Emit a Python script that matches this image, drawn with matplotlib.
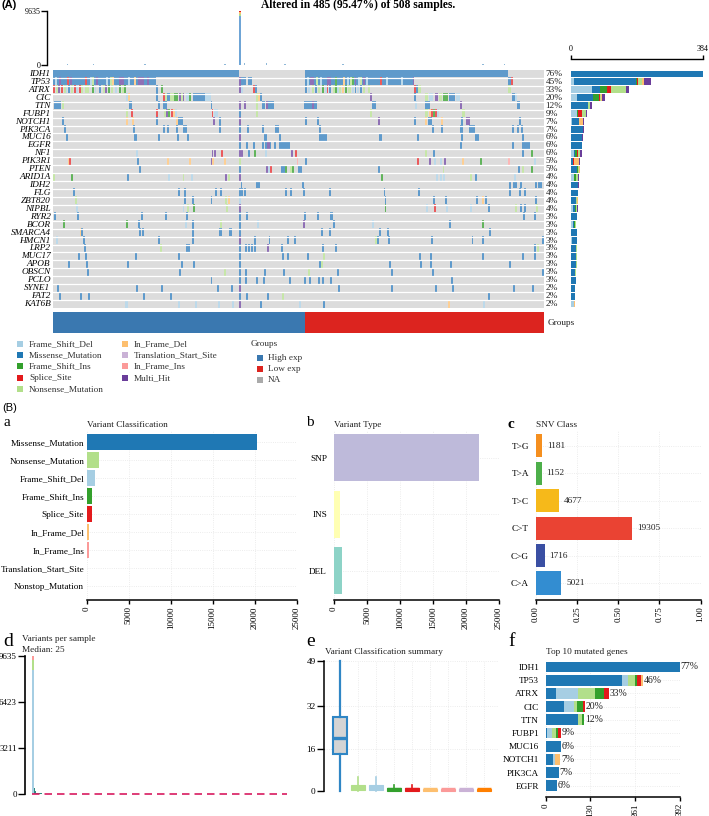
import numpy as np
import matplotlib
matplotlib.use("Agg")
import matplotlib.pyplot as plt
from matplotlib.colors import ListedColormap

plt.rcParams['font.family'] = ['Liberation Serif', 'DejaVu Serif']
W, H = 709, 816
FS = 6.7

# ---------- classes ----------
class_names = ['Frame_Shift_Del', 'Missense_Mutation', 'Frame_Shift_Ins', 'Splice_Site',
               'Nonsense_Mutation', 'In_Frame_Del', 'Translation_Start_Site', 'In_Frame_Ins', 'Multi_Hit']
class_keys = ['D', 'M', 'I', 'S', 'N', 'F', 'T', 'R', 'H']
class_colors = ['#a6cee3', '#1f78b4', '#33a02c', '#e31a1c', '#b2df8a', '#fdbf6f', '#cab2d6', '#fb9a99', '#6a3d9a']
heat_colors = ['#dcdcdc', '#bcd9ea', '#5f9acb', '#62b45c', '#ea5a5c', '#c6e6a8', '#fdcf94', '#d9c8e4', '#fcb7b6', '#8f70b5']

# ---------- oncoplot ----------
genes = ['IDH1', 'TP53', 'ATRX', 'CIC', 'TTN', 'FUBP1', 'NOTCH1', 'PIK3CA', 'MUC16', 'EGFR', 'NF1', 'PIK3R1', 'PTEN',
         'ARID1A', 'IDH2', 'FLG', 'ZBT820', 'NIPBL', 'RYR2', 'BCOR', 'SMARCA4', 'HMCN1', 'LRP2', 'MUC17', 'APOB',
         'OBSCN', 'PCLO', 'SYNE1', 'FAT2', 'KAT6B']
gene_pct = ['76%', '45%', '33%', '20%', '12%', '9%', '7%', '7%', '6%', '6%', '6%', '5%', '5%', '4%', '4%', '4%', '4%',
            '4%', '3%', '3%', '3%', '3%', '3%', '3%', '3%', '3%', '3%', '2%', '2%', '2%']
n_samples = 508

IDH1_hits = [(0, 192, 'M'), (261, 471, 'M')]
TP53_hits = [(0, 107, 'M'), (2, 'D'), (6, 'H'), (14, 17, 'S'), (18, 'H'), (33, 'S'), (38, 'D'), (40, 'N'), (45, 'H'),
             (55, 'D'), (59, 61, 'N'), (61, 'F'), (68, 73, 'H'), (78, 'D'), (84, 'F'), (88, 94, 'H'), (97, 'H'),
             (192, 194, 'H'), (194, 200, 'M'), (202, 206, 'M'), (261, 374, 'M'), (263, 'D'), (266, 270, 'H'),
             (272, 'N'), (276, 'D'), (284, 288, 'H'), (292, 'I'), (300, 'F'), (304, 'D'), (307, 'N'), (309, 'I'),
             (312, 'H'), (316, 'D'), (318, 'N'), (321, 'H'), (324, 'D'), (338, 'S'), (345, 'D'), (360, 'D'),
             (372, 374, 'H'), (471, 474, 'M'), (474, 476, 'S')]
ATRX_hits = [(0, 2, 'S'), (3, 'N'), (5, 7, 'H'), (8, 'S'), (11, 'N'), (13, 'D'), (16, 'M'), (19, 'N'), (22, 'S'),
             (24, 'D'), (27, 'S'), (29, 'N'), (33, 37, 'N'), (40, 'I'), (43, 45, 'D'), (48, 50, 'M'), (52, 'N'),
             (54, 56, 'H'), (57, 'I'), (60, 62, 'N'), (64, 66, 'D'), (68, 70, 'I'), (71, 'N'), (73, 76, 'I'),
             (107, 'M'), (112, 114, 'I'), (192, 194, 'H'), (194, 197, 'D'), (207, 'S'), (209, 'M'), (261, 263, 'M'),
             (264, 266, 'D'), (268, 'N'), (271, 'M'), (274, 276, 'N'), (278, 'I'), (281, 'D'), (283, 'S'),
             (286, 288, 'M'), (290, 'N'), (292, 'I'), (294, 'D'), (296, 'N'), (299, 'F'), (302, 'I'), (305, 308, 'N'),
             (309, 'D'), (312, 'M'), (315, 'D'), (318, 'M'), (321, 'N'), (326, 328, 'N'), (374, 'S'), (376, 'M'),
             (378, 381, 'N'), (471, 474, 'N')]
CIC_hits = [(76, 'D'), (78, 'F'), (107, 'M'), (114, 116, 'S'), (116, 118, 'N'), (118, 121, 'M'), (121, 125, 'N'),
            (125, 129, 'I'), (130, 132, 'H'), (132, 134, 'N'), (134, 136, 'H'), (138, 141, 'D'), (141, 143, 'I'),
            (145, 157, 'M'), (157, 163, 'D'), (210, 212, 'N'), (212, 214, 'F'), (214, 216, 'M'), (328, 'H'),
            (374, 376, 'M'), (385, 388, 'N'), (389, 393, 'D'), (395, 398, 'H'), (399, 402, 'N'), (403, 409, 'I'),
            (410, 416, 'M'), (417, 421, 'D'), (475, 478, 'M'), (478, 480, 'D')]
TTN_hits = [(1, 8, 'M'), (9, 'N'), (79, 82, 'M'), (109, 'M'), (114, 118, 'M'), (163, 'M'), (192, 194, 'H'),
            (198, 'H'), (210, 'N'), (216, 219, 'M'), (220, 222, 'H'), (222, 229, 'M'), (260, 268, 'M'), (268, 270, 'H'),
            (270, 273, 'M'), (330, 334, 'M'), (375, 'D'), (385, 390, 'M'), (421, 'H'), (480, 483, 'M')]
FUBP1_hits = [(76, 78, 'N'), (81, 83, 'S'), (107, 'S'), (115, 117, 'N'), (117, 119, 'H'), (119, 121, 'I'),
              (122, 124, 'S'), (124, 126, 'F'), (126, 128, 'D'), (164, 166, 'S'), (167, 171, 'D'), (192, 'M'),
              (210, 'N'), (328, 'N'), (385, 388, 'N'), (389, 391, 'F'), (391, 393, 'S'), (393, 395, 'I'),
              (395, 397, 'S'), (397, 399, 'D'), (423, 426, 'N')]
NOTCH1_hits = [(9, 'M'), (76, 'F'), (82, 'F'), (107, 'M'), (127, 'F'), (129, 134, 'M'), (166, 'H'), (172, 'M'),
               (192, 194, 'H'), (261, 'M'), (273, 'M'), (336, 'H'), (374, 'M'), (385, 'F'), (388, 392, 'M'),
               (401, 'F'), (422, 'M'), (427, 'H'), (429, 'H'), (482, 'M')]
PIK3CA_hits = [(11, 13, 'M'), (83, 'M'), (114, 'M'), (118, 'M'), (127, 'M'), (134, 139, 'M'), (172, 'M'), (192, 'M'),
               (201, 'M'), (216, 'M'), (230, 234, 'M'), (275, 'M'), (392, 'M'), (401, 404, 'M'), (421, 424, 'M'),
               (430, 437, 'M'), (475, 477, 'M'), (480, 'M'), (484, 'M')]
MUC16_hits = [(13, 16, 'M'), (84, 87, 'M'), (109, 111, 'M'), (128, 'M'), (139, 'M'), (192, 195, 'H'), (218, 221, 'M'),
              (234, 'M'), (275, 284, 'M'), (337, 340, 'M'), (377, 'M'), (422, 'M'), (437, 441, 'M'), (485, 'M')]
EGFR_hits = [(192, 'M'), (200, 'M'), (207, 'M'), (216, 'M'), (219, 'M'), (221, 224, 'H'), (224, 226, 'M'), (229, 'M'),
             (234, 245, 'M'), (421, 'M'), (475, 'M'), (485, 494, 'M')]
NF1_hits = [(86, 'D'), (164, 'H'), (167, 'H'), (174, 'S'), (192, 194, 'H'), (195, 'H'), (202, 'M'), (208, 'I'),
            (219, 'D'), (246, 'H'), (250, 'S'), (385, 'N'), (393, 'M'), (485, 'M'), (495, 497, 'I')]
PIK3R1_hits = [(16, 17, 'F'), (17, 19, 'S'), (87, 'M'), (118, 'F'), (141, 'F'), (163, 'H'), (165, 'F'), (177, 'F'),
               (192, 'N'), (252, 'R'), (261, 'M'), (377, 379, 'S'), (389, 'H'), (394, 'D'), (400, 'D'), (405, 'H'),
               (423, 'F'), (442, 'I'), (471, 'R'), (498, 'D')]
PTEN_hits = [(89, 'M'), (192, 'M'), (220, 'H'), (222, 'D'), (225, 'S'), (236, 240, 'M'), (240, 'I'), (245, 'N'),
             (247, 'I'), (254, 'M'), (256, 'M'), (336, 'M'), (403, 'N'), (481, 'M'), (485, 487, 'N'), (495, 'I')]
ARID1A_hits = [(0, 'N'), (19, 'I'), (77, 'M'), (119, 'D'), (134, 'N'), (143, 'D'), (178, 'H'), (181, 'N'), (192, 'H'),
               (339, 341, 'I'), (396, 'D'), (400, 'D'), (404, 'D'), (431, 'N'), (437, 'M'), (477, 'D')]
IDH2_hits = [(194, 'M'), (210, 214, 'M'), (258, 'M'), (472, 474, 'M'), (476, 480, 'M'), (483, 'M'), (499, 501, 'M'),
             (502, 506, 'M')]
FLG_hits = [(21, 23, 'M'), (129, 'M'), (136, 'M'), (168, 'M'), (173, 'M'), (192, 'M'), (195, 'M'), (198, 'M'),
            (240, 'M'), (245, 'M'), (259, 'M'), (286, 'M'), (342, 'M'), (378, 'M'), (472, 'M'), (482, 'M'), (487, 489, 'M')]
ZBT820_hits = [(23, 'N'), (136, 'M'), (144, 'M'), (163, 'M'), (178, 'N'), (181, 'F'), (192, 'D'), (343, 'M'),
               (393, 'M'), (406, 'M'), (438, 'M'), (444, 'F'), (447, 449, 'M'), (499, 'M')]
NIPBL_hits = [(24, 'D'), (134, 'D'), (139, 'N'), (145, 'I'), (179, 'N'), (192, 'H'), (343, 345, 'I'), (386, 'D'),
              (394, 396, 'S'), (407, 'D'), (431, 'D'), (450, 'M'), (478, 'N'), (483, 'M'), (487, 'M'), (500, 'N')]
RYR2_hits = [(1, 3, 'M'), (25, 27, 'M'), (91, 'M'), (116, 'M'), (138, 'M'), (192, 'M'), (200, 'M'), (260, 'M'),
             (273, 'M'), (287, 290, 'M'), (486, 'M'), (498, 'M')]
BCOR_hits = [(10, 'I'), (76, 'I'), (88, 'M'), (137, 'D'), (144, 'M'), (173, 'N'), (192, 'M'), (211, 'D'), (259, 'H'),
             (290, 292, 'M'), (330, 'D'), (410, 'M'), (444, 'I')]
SMARCA4_hits = [(28, 'F'), (29, 31, 'M'), (89, 'M'), (92, 'M'), (144, 'M'), (172, 175, 'M'), (182, 185, 'M'),
                (192, 'M'), (277, 'M'), (286, 'M'), (337, 339, 'M'), (346, 'M'), (451, 453, 'M')]
HMCN1_hits = [(3, 5, 'D'), (31, 'M'), (109, 'M'), (144, 'M'), (192, 194, 'H'), (208, 'M'), (223, 'M'), (242, 'M'),
              (249, 'M'), (333, 'N'), (335, 'M'), (347, 'M'), (391, 'M'), (433, 'M'), (444, 'M'), (506, 'M')]
LRP2_hits = [(32, 'M'), (111, 'N'), (138, 'M'), (140, 'M'), (192, 'M'), (199, 'M'), (202, 204, 'M'), (205, 'M'),
             (208, 'M'), (221, 'H'), (236, 'M'), (278, 'M'), (292, 294, 'M'), (498, 'M'), (501, 'N')]
MUC17_hits = [(26, 'M'), (33, 'M'), (85, 'M'), (129, 131, 'M'), (192, 'M'), (237, 'M'), (242, 'M'), (263, 'M'),
              (279, 'N'), (379, 'M'), (390, 'M'), (444, 'M'), (485, 'M'), (498, 'M')]
APOB_hits = [(16, 18, 'M'), (34, 'M'), (77, 'M'), (132, 'M'), (145, 'M'), (192, 'M'), (275, 'M'), (277, 'N'),
             (348, 350, 'M'), (380, 'M'), (390, 'M'), (411, 'M'), (472, 'M')]
OBSCN_hits = [(35, 'M'), (130, 'M'), (177, 'N'), (192, 'M'), (199, 'M'), (218, 'M'), (238, 'M'), (264, 'N'), (294, 'M'),
              (350, 'M'), (392, 'M'), (506, 'M')]
PCLO_hits = [(163, 'M'), (192, 'M'), (199, 201, 'M'), (210, 'M'), (217, 'M'), (244, 'M'), (260, 'M'), (265, 'M'),
             (274, 'M'), (278, 'M'), (287, 'M'), (412, 'M')]
SYNE1_hits = [(4, 'M'), (86, 'M'), (112, 'M'), (170, 'M'), (184, 'M'), (192, 'H'), (295, 'M'), (350, 'M'), (395, 'M'),
              (413, 'M'), (476, 'M'), (496, 'M')]
FAT2_hits = [(6, 'M'), (28, 'M'), (36, 38, 'M'), (93, 'M'), (121, 'M'), (192, 'M'), (200, 'M'), (221, 'M'), (237, 'N'),
             (450, 'M')]
KAT6B_hits = [(75, 78, 'D'), (129, 'D'), (147, 'D'), (171, 'D'), (185, 'D'), (192, 'H'), (214, 'M'), (255, 'D'),
              (279, 'M'), (409, 'F'), (445, 'D')]

gene_hits = [IDH1_hits, TP53_hits, ATRX_hits, CIC_hits, TTN_hits, FUBP1_hits, NOTCH1_hits, PIK3CA_hits, MUC16_hits,
             EGFR_hits, NF1_hits, PIK3R1_hits, PTEN_hits, ARID1A_hits, IDH2_hits, FLG_hits, ZBT820_hits, NIPBL_hits,
             RYR2_hits, BCOR_hits, SMARCA4_hits, HMCN1_hits, LRP2_hits, MUC17_hits, APOB_hits, OBSCN_hits, PCLO_hits,
             SYNE1_hits, FAT2_hits, KAT6B_hits]

# top TMB bars (sample, count)
tmb_spike_sample = 192
tmb_spike_parts = [('M', 8800), ('N', 300), ('F', 300), ('S', 235)]
tmb_samples = [15, 42, 70, 95, 112, 150, 178, 198, 221, 240, 262, 300, 335, 380, 410, 445, 467, 490]
tmb_counts = [90, 140, 70, 130, 60, 80, 90, 420, 330, 110, 70, 90, 60, 70, 80, 90, 250, 60]

# side bars: counts per gene in class_keys order
side_max = 384
side_D = [0, 10, 60, 16, 0, 16, 4, 0, 0, 0, 10, 0, 0, 10, 0, 0, 0, 7, 0, 6, 0, 2, 0, 0, 0, 0, 0, 0, 0, 9]
side_M = [384, 178, 24, 48, 50, 0, 18, 36, 33, 31, 3, 6, 16, 0, 20, 21, 14, 4, 17, 4, 16, 14, 15, 15, 15, 13, 15, 11, 11, 1]
side_I = [0, 3, 22, 17, 0, 5, 0, 0, 0, 0, 5, 1, 3, 5, 0, 0, 1, 3, 0, 3, 0, 0, 0, 0, 0, 0, 0, 0, 0, 0]
side_S = [0, 4, 10, 2, 0, 11, 0, 0, 0, 0, 3, 2, 1, 0, 0, 0, 0, 0, 0, 0, 0, 0, 0, 0, 0, 0, 0, 0, 0, 0]
side_N = [0, 11, 44, 5, 5, 11, 0, 0, 0, 0, 4, 0, 3, 4, 0, 0, 1, 4, 0, 2, 0, 0, 1, 1, 1, 2, 0, 0, 1, 0]
side_F = [0, 5, 0, 2, 0, 0, 12, 0, 0, 0, 0, 14, 2, 0, 0, 0, 4, 0, 0, 0, 1, 0, 0, 0, 0, 0, 0, 0, 0, 1]
side_H = [0, 21, 8, 10, 7, 3, 3, 1, 1, 1, 6, 4, 0, 3, 2, 0, 0, 2, 0, 0, 0, 1, 1, 0, 0, 0, 0, 1, 0, 2]

legend_groups = ['High exp', 'Low exp', 'NA']
group_colors = ['#3a78b0', '#dc241f', '#aaaaaa']
group_sizes = [261, 247]

# ---------- panel a ----------
vc_names = ['Missense_Mutation', 'Nonsense_Mutation', 'Frame_Shift_Del', 'Frame_Shift_Ins', 'Splice_Site',
            'In_Frame_Del', 'In_Frame_Ins', 'Translation_Start_Site', 'Nonstop_Mutation']
vc_counts = [20250, 1430, 920, 640, 560, 200, 200, 40, 40]
vc_colors = ['#1f78b4', '#b2df8a', '#a6cee3', '#33a02c', '#e31a1c', '#fdbf6f', '#fb9a99', '#cab2d6', '#ff7f00']
# ---------- panel b ----------
vt_names = ['SNP', 'INS', 'DEL']
vt_counts = [22020, 900, 1160]
vt_colors = ['#bebada', '#ffffb3', '#8dd3c7']
# ---------- panel c ----------
snv_names = ['T>G', 'T>A', 'T>C', 'C>T', 'C>G', 'C>A']
snv_counts = [1181, 1152, 4677, 19305, 1716, 5021]
snv_colors = ['#f58f1f', '#4daf4a', '#f6b91a', '#ea4333', '#3a4fa3', '#338dd1']
# ---------- panel d ----------
vps_ticks = [0, 3211, 6423, 9635]
vps_first_parts = [('D', 8630), ('N', 710), ('R', 295)]
vps_rest = [420, 180, 120, 90, 70, 60, 50, 45, 40, 35]
vps_median = 25
# ---------- panel e ----------
box_q1 = [13.8, 0.3, 0.3, 0.0, 0.0, 0.0, 0.0, 0.0, 0.0]
box_med = [19.8, 1.0, 1.0, 1.0, 1.0, 1.0, 1.0, 1.0, 1.0]
box_q3 = [28.0, 2.2, 2.2, 1.1, 1.1, 0.9, 0.9, 0.9, 0.9]
box_hi = [49, 5.4, 5.4, 2.2, 2.2, 0.9, 0.9, 0.9, 0.9]
box_lo = [0, 0, 0, 0, 0, 0, 0, 0, 0]
box_ticks = [0, 16, 32, 49]
# ---------- panel f ----------
top_genes = ['IDH1', 'TP53', 'ATRX', 'CIC', 'TTN', 'FUBP1', 'MUC16', 'NOTCH1', 'PIK3CA', 'EGFR']
top_pct = ['77%', '46%', '33%', '20%', '12%', '9%', '6%', '7%', '7%', '6%']
top_M = [392, 222, 29, 54, 95, 3, 44, 21, 37, 32]
top_D = [0, 18, 66, 29, 0, 16, 0, 6, 0, 0]
top_N = [0, 19, 49, 9, 10, 11, 0, 0, 0, 0]
top_I = [0, 7, 27, 17, 5, 4, 0, 0, 0, 0]
top_S = [0, 12, 12, 4, 2, 11, 0, 0, 0, 0]
top_F = [0, 6, 0, 0, 0, 0, 0, 15, 0, 0]

# ---------------------------------------------------------------------------
fig = plt.figure(figsize=(W / 100, H / 100), dpi=100, facecolor='white')
cmap_of = dict(zip(class_keys, class_colors))


def box(x0, y0, x1, y1):
    return fig.add_axes([x0 / W, 1 - y1 / H, (x1 - x0) / W, (y1 - y0) / H])


over = fig.add_axes([0, 0, 1, 1], zorder=10)
over.set_xlim(0, W)
over.set_ylim(H, 0)
over.axis('off')


def label(x, y, s, **kw):
    kw.setdefault('fontsize', FS)
    kw.setdefault('va', 'center')
    kw.setdefault('ha', 'left')
    over.text(x, y, s, **kw)


# heat matrix
mat = np.zeros((len(genes), n_samples), dtype=int)
for row, hits in enumerate(gene_hits):
    for h in hits:
        if len(h) == 2:
            a, b, k = h[0], h[0] + 2, h[1]
        else:
            a, b, k = h
        mat[row, a:b] = class_keys.index(k) + 1

ax = box(53, 70, 544, 308)
ax.imshow(mat, cmap=ListedColormap(heat_colors), vmin=0, vmax=9, aspect='auto', interpolation='nearest',
          extent=(0, n_samples, len(genes), 0))
for r in range(1, len(genes)):
    ax.axhline(r, color='white', lw=0.9)
ax.axis('off')
for r, (g, p) in enumerate(zip(genes, gene_pct)):
    y = 70 + (r + 0.5) * 238 / len(genes)
    label(50.5, y, g, ha='right', style='italic')
    label(545.5, y, p, color='#222222')

# top bars
ax = box(53, 11, 544, 65)
ax.set_xlim(0, n_samples)
ax.set_ylim(0, 9635)
bottom = 0
for k, v in tmb_spike_parts:
    c = '#6fa5d6' if k == 'M' else cmap_of[k]
    ax.bar(tmb_spike_sample, v, bottom=bottom, width=3, color=c, align='edge', lw=0)
    bottom += v
ax.bar(tmb_samples, tmb_counts, width=1.5, color='#8fb8d8', lw=0, clip_on=False)
ax.plot([0, n_samples], [40, 40], color='#c9d3da', lw=0.5, ls=(0, (2, 1)))
for s in ['top', 'right', 'bottom']:
    ax.spines[s].set_visible(False)
ax.spines['left'].set_position(('outward', 4))
ax.spines['left'].set_linewidth(1.0)
ax.set_xticks([])
ax.set_yticks([0, 9635])
ax.tick_params(axis='y', length=4, width=1.0, labelsize=5.8, pad=1)

# side bars
ax = box(571, 70, 703, 308)
ax.set_xlim(0, side_max)
ax.set_ylim(len(genes), 0)
left = np.zeros(len(genes))
side_series = [('D', side_D), ('M', side_M), ('I', side_I), ('S', side_S), ('N', side_N), ('F', side_F), ('H', side_H)]
for k, vals in side_series:
    ax.barh(np.arange(len(genes)) + 0.5, vals, left=left, height=0.86, color=cmap_of[k], lw=0)
    left += np.array(vals)
for s in ['left', 'right', 'bottom']:
    ax.spines[s].set_visible(False)
ax.spines['top'].set_position(('outward', 8))
ax.spines['top'].set_linewidth(1.0)
ax.xaxis.tick_top()
ax.set_xticks([0, side_max])
ax.tick_params(axis='x', length=3, width=1.0, labelsize=5.8, pad=1.5)
ax.set_yticks([])

# group annotation
ax = box(53, 312, 544, 333)
ax.barh(0, group_sizes[0], left=0, height=1, color=group_colors[0], lw=0)
ax.barh(0, group_sizes[1], left=group_sizes[0], height=1, color=group_colors[1], lw=0)
ax.set_xlim(0, n_samples)
ax.set_ylim(-0.5, 0.5)
ax.axis('off')
label(548, 323, 'Groups', color='#222222')

# legend
col1_y = [344, 355, 366, 378, 389]
legend_order = ['Frame_Shift_Del', 'Missense_Mutation', 'Frame_Shift_Ins', 'Splice_Site', 'Nonsense_Mutation']
for y, n in zip(col1_y, legend_order):
    i = class_names.index(n)
    over.scatter([20], [y], marker='s', s=13, color=class_colors[i], lw=0)
    label(29, y, n, color='#333333')
legend_order2 = ['In_Frame_Del', 'Translation_Start_Site', 'In_Frame_Ins', 'Multi_Hit']
for y, n in zip(col1_y, legend_order2):
    i = class_names.index(n)
    over.scatter([125], [y], marker='s', s=13, color=class_colors[i], lw=0)
    label(133.5, y, n, color='#333333')
label(251, 344, 'Groups', color='#333333')
for y, n, c in zip([358, 369, 380], legend_groups, group_colors):
    over.scatter([260], [y], marker='s', s=13, color=c, lw=0)
    label(268, y, n, color='#333333')

label(261, 5, 'Altered in 485 (95.47%) of 508 samples.', fontsize=8.3, weight='bold')
label(2, 5, '(A)', fontsize=8, family='Liberation Sans', weight='bold')
label(2, 408, '(B)', fontsize=8, family='Liberation Sans')


def style_bar(ax, xt):
    for s in ['top', 'right', 'left']:
        ax.spines[s].set_visible(False)
    ax.spines['bottom'].set_linewidth(1.1)
    ax.set_xticks(xt)
    ax.tick_params(axis='x', length=3, width=1.0, labelsize=FS - 0.2, labelrotation=90, pad=1.5, color='black')
    ax.tick_params(axis='y', length=0, labelsize=FS, pad=2)
    ax.grid(color='#e6e6e6', ls=':', lw=0.6)
    ax.set_axisbelow(True)


# a
ax = box(87, 430, 296.5, 600)
ax.barh(range(9), vc_counts, height=0.85, color=vc_colors, lw=0)
ax.set_xlim(0, 25000)
ax.set_ylim(8.78, -0.667)
ax.set_yticks(range(9))
ax.set_yticklabels(vc_names)
style_bar(ax, [0, 5000, 10000, 15000, 20000, 25000])
label(4, 423, 'a', fontsize=11)
label(87, 425, 'Variant Classification', color='#222222')

# b
ax = box(334, 430, 499, 600)
ax.barh(range(3), vt_counts, height=0.83, color=vt_colors, lw=0)
ax.set_xlim(0, 25000)
ax.set_ylim(2.52, -0.49)
ax.set_yticks(range(3))
ax.set_yticklabels(vt_names)
style_bar(ax, [0, 5000, 10000, 15000, 20000, 25000])
ax.tick_params(axis='y', pad=5)
label(306, 423, 'b', fontsize=11)
label(334, 425, 'Variant Type', color='#222222')

# c
ax = box(536, 430, 700.5, 600)
snv_total = sum(snv_counts)
snv_frac = [c / snv_total for c in snv_counts]
ax.barh(range(6), snv_frac, height=0.84, color=snv_colors, lw=0)
ax.set_xlim(0, 1)
ax.set_ylim(5.62, -0.58)
ax.set_yticks(range(6))
ax.set_yticklabels(snv_names)
style_bar(ax, [0, 0.25, 0.5, 0.75, 1.0])
ax.set_xticklabels(['0.00', '0.25', '0.50', '0.75', '1.00'])
ax.tick_params(axis='y', pad=5)
for i, (f, c) in enumerate(zip(snv_frac, snv_counts)):
    ax.annotate(str(c), (f, i), xytext=(3.6, 0), textcoords='offset points', va='center', fontsize=FS, color='#222222')
label(508, 424, 'c', fontsize=11, weight='bold')
label(536, 425, 'SNV Class', color='#222222')

# d
ax = box(25, 656, 287, 794)
ax.set_xlim(-14, n_samples)
ax.set_ylim(0, 9635)
bottom = 0
for k, v in vps_first_parts:
    ax.bar(0, v, bottom=bottom, width=4, color=cmap_of[k], lw=0, align='edge')
    bottom += v
ax.bar(np.arange(len(vps_rest)) * 1.5 + 4, vps_rest, width=1.5, color='#2e8b7f', lw=0, align='edge')
ax.plot([0, n_samples], [vps_median, vps_median], color='#d81b60', lw=1.2, ls=(0, (4.5, 3)), clip_on=False, zorder=5)
for s in ['top', 'right', 'bottom']:
    ax.spines[s].set_visible(False)
ax.spines['left'].set_linewidth(1.2)
ax.set_xticks([])
ax.set_yticks(vps_ticks)
ax.tick_params(axis='y', length=5, width=1.0, labelsize=FS - 0.2, pad=1)
label(3, 642, 'd', fontsize=14)
label(22, 639, 'Variants per sample', color='#222222')
label(22, 649.5, 'Median: 25', color='#222222')

# e
ax = box(324, 661, 498, 791)
stats = [dict(med=m, q1=a, q3=b, whislo=l, whishi=h, fliers=[]) for m, a, b, l, h in
         zip(box_med, box_q1, box_q3, box_lo, box_hi)]
bp = ax.bxp(stats, positions=range(9), widths=0.82, patch_artist=True, showfliers=False, showcaps=False,
            manage_ticks=False)
for i, c in enumerate(vc_colors):
    edge = '#2f86c5' if i == 0 else c
    bp['boxes'][i].set(facecolor='#d4d4d4' if i == 0 else c, edgecolor=edge, linewidth=1.5 if i == 0 else 0.8,
                       clip_on=False)
    bp['medians'][i].set(color=edge, linewidth=2.4 if i == 0 else 1.0, clip_on=False, solid_capstyle='butt')
    for w in bp['whiskers'][2 * i:2 * i + 2]:
        w.set(color=edge, linewidth=1.6 if i == 0 else 1.2, clip_on=False)
ax.set_xlim(-0.89, 8.78)
ax.set_ylim(0, 49)
for s in ['top', 'right', 'bottom']:
    ax.spines[s].set_visible(False)
ax.spines['left'].set_linewidth(1.1)
ax.set_xticks(range(9))
ax.set_xticklabels([])
ax.set_yticks(box_ticks)
ax.tick_params(axis='x', length=0)
ax.tick_params(axis='y', length=5, width=1.0, labelsize=FS, pad=1)
ax.grid(color='#e6e6e6', ls=':', lw=0.6)
ax.set_axisbelow(True)
label(306, 642, 'e', fontsize=14)
label(325, 652, 'Variant Classification summary', color='#222222')

# f
ax = box(546, 660, 680, 797)
left = np.zeros(10)
for k, vals in [('M', top_M), ('D', top_D), ('N', top_N), ('I', top_I), ('S', top_S), ('F', top_F)]:
    ax.barh(range(10), vals, left=left, height=0.83, color=cmap_of[k], lw=0)
    left += np.array(vals)
for i, p in enumerate(top_pct):
    ax.annotate(p, (left[i], i), xytext=(0.5, 0), textcoords='offset points', va='center', fontsize=FS + 0.3,
                annotation_clip=False, color='#222222')
ax.set_xlim(0, 392)
ax.set_ylim(9.85, -0.53)
ax.set_yticks(range(10))
ax.set_yticklabels(top_genes)
style_bar(ax, [0, 130, 261, 392])
ax.tick_params(axis='y', pad=5)
label(508, 642, 'f', fontsize=14)
label(546, 652, 'Top 10 mutated genes', color='#222222')

fig.savefig('out.png', dpi=100)
